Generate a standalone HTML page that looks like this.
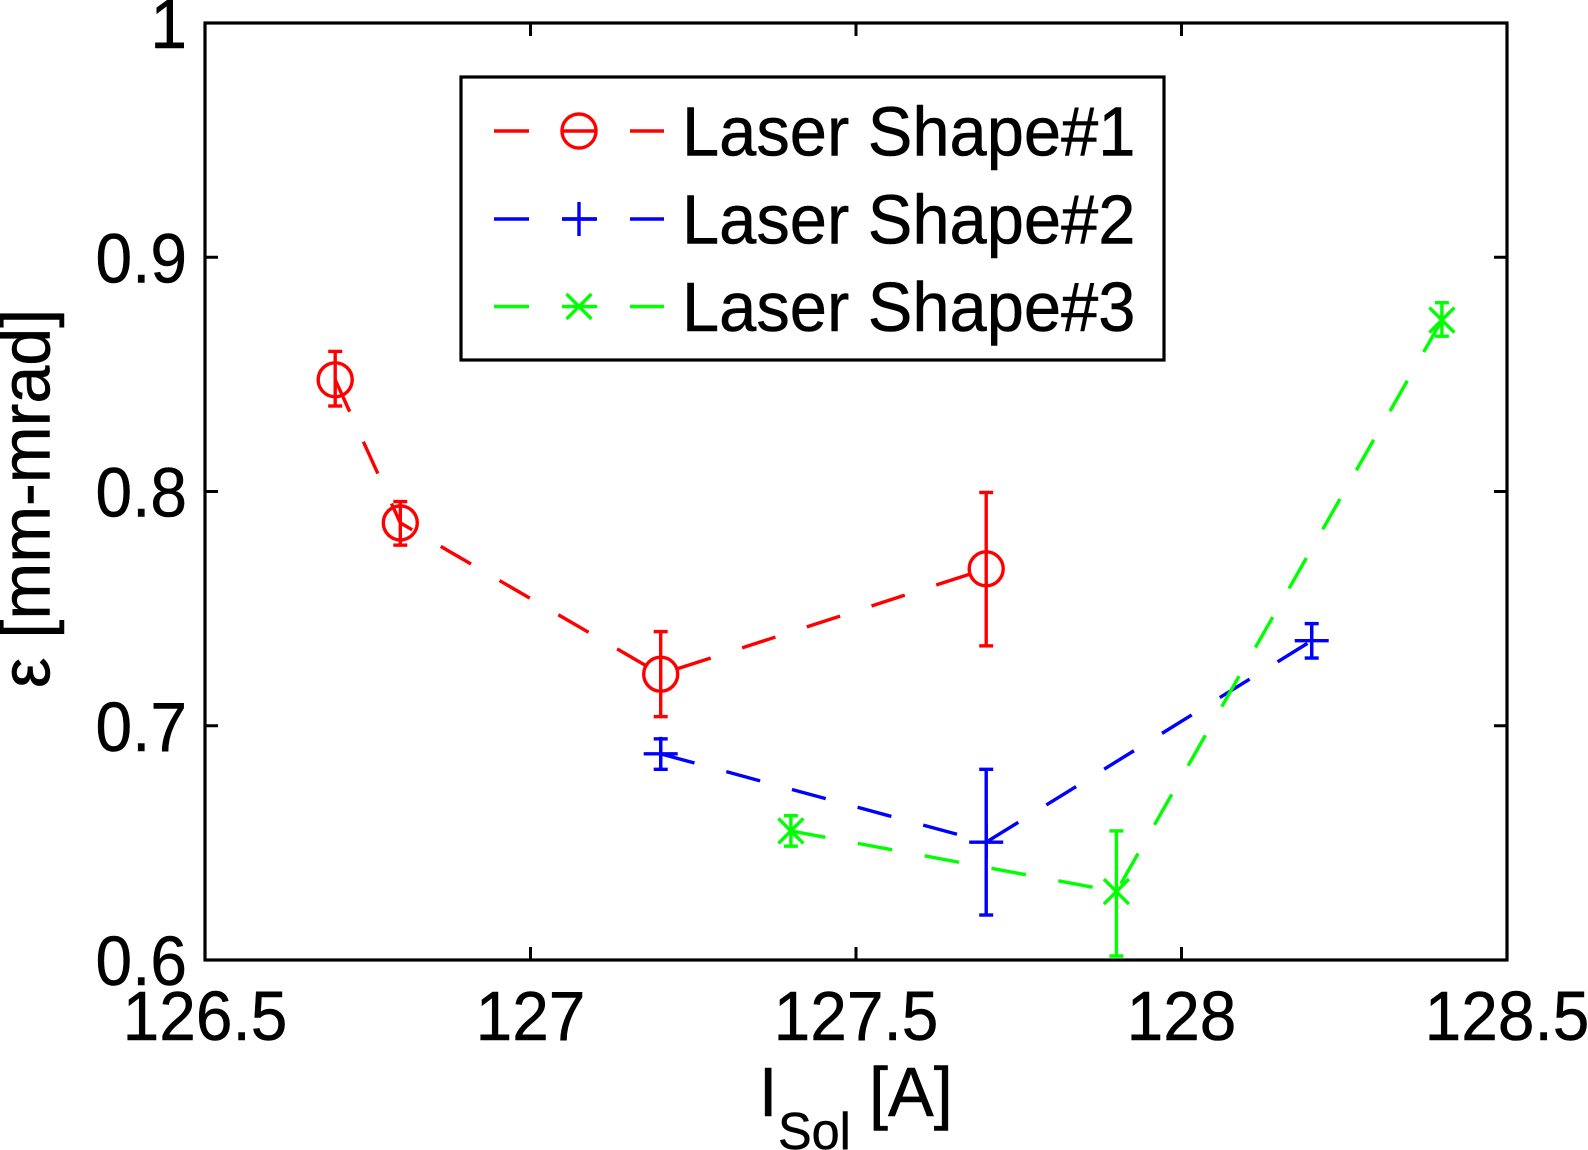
<!DOCTYPE html>
<html>
<head>
<meta charset="utf-8">
<title>Emittance vs solenoid current</title>
<style>
html,body{margin:0;padding:0;background:#fff;width:1588px;height:1150px;overflow:hidden}
svg{display:block}
text{font-family:"Liberation Sans",sans-serif;fill:#000;stroke:#000;stroke-width:.5px}
</style>
</head>
<body>
<svg id="chart" xmlns="http://www.w3.org/2000/svg" width="1588" height="1150" viewBox="0 0 1588 1150"></svg>
<script>
const xTicks = [126.5, 127, 127.5, 128, 128.5];
const xTickLabels = ["126.5", "127", "127.5", "128", "128.5"];
const yTicks = [0.6, 0.7, 0.8, 0.9, 1];
const yTickLabels = ["0.6", "0.7", "0.8", "0.9", "1"];

const shape1Current = [126.7, 126.8, 127.2, 127.7];
const shape1Emittance = [0.8477, 0.7866, 0.722, 0.767];
const shape1Upper = [0.8598, 0.7957, 0.7402, 0.7996];
const shape1Lower = [0.8365, 0.7771, 0.7039, 0.7341];

const shape2Current = [127.2, 127.7, 128.2];
const shape2Emittance = [0.688, 0.6503, 0.7363];
const shape2Upper = [0.6944, 0.6814, 0.7436];
const shape2Lower = [0.6814, 0.6192, 0.7289];

const shape3Current = [127.4, 127.9, 128.4];
const shape3Emittance = [0.6551, 0.6292, 0.8732];
const shape3Upper = [0.6616, 0.6551, 0.8806];
const shape3Lower = [0.6486, 0.6017, 0.8663];

const legendLabels = ["Laser Shape#1", "Laser Shape#2", "Laser Shape#3"];

const NS = "http://www.w3.org/2000/svg";
const svg = document.getElementById("chart");
const L = 205, R = 1507, T = 23, B = 960;
const sx = v => L + (v - 126.5) / 2 * (R - L);
const sy = v => B - (v - 0.6) / 0.4 * (B - T);

function mk(tag, attrs, parent) {
  const el = document.createElementNS(NS, tag);
  for (const k in attrs) el.setAttribute(k, attrs[k]);
  (parent || svg).appendChild(el);
  return el;
}
function txt(str, x, y, fs, anchor, rot, parent, squeeze) {
  const el = mk("text", {
    transform: "translate(" + x + "," + y + ")" + (rot ? " rotate(-90)" : "") + " scale(" + (squeeze || 0.94) + ",1)",
    "font-size": fs,
    "text-anchor": anchor
  }, parent);
  el.textContent = str;
  return el;
}
function seg(x1, y1, x2, y2, color, w, parent) {
  return mk("line", {x1: x1, y1: y1, x2: x2, y2: y2, stroke: color, "stroke-width": w}, parent);
}
function marker(kind, cx, cy, color, parent) {
  if (kind === "circle") {
    mk("circle", {cx: cx, cy: cy, r: 17, fill: "none", stroke: color, "stroke-width": 3.4}, parent);
  } else if (kind === "plus") {
    seg(cx - 17, cy, cx + 17, cy, color, 3.4, parent);
    seg(cx, cy - 17, cx, cy + 17, color, 3.4, parent);
  } else {
    seg(cx - 12.5, cy - 12.5, cx + 12.5, cy + 12.5, color, 3.4, parent);
    seg(cx - 12.5, cy + 12.5, cx + 12.5, cy - 12.5, color, 3.4, parent);
  }
}

/* Axes frame */
const frame = mk("rect", {x: L, y: T, width: R - L, height: B - T, fill: "#fff", stroke: "#000", "stroke-width": 3.2});



/* X ticks */
xTicks.forEach((v, i) => {
  const g = mk("g", {});
  
  
  if (i > 0 && i < xTicks.length - 1) {
    seg(sx(v), B, sx(v), B - 13, "#000", 3, g);
    seg(sx(v), T, sx(v), T + 13, "#000", 3, g);
  }
  txt(xTickLabels[i], sx(v), 1040, 70, "middle", false, g);
});

/* Y ticks */
yTicks.forEach((v, i) => {
  const g = mk("g", {});
  
  
  if (i > 0 && i < yTicks.length - 1) {
    seg(L, sy(v), L + 13, sy(v), "#000", 3, g);
    seg(R, sy(v), R - 13, sy(v), "#000", 3, g);
  }
  txt(yTickLabels[i], 187, sy(v) + 25, 70, "end", false, g);
});

/* Series */
function drawSeries(name, color, kind, xs, ys, up, lo) {
  const g = mk("g", {});
  
  
  const pts = xs.map((x, i) => sx(x) + "," + sy(ys[i])).join(" ");
  const line = mk("polyline", {points: pts, fill: "none", stroke: color, "stroke-width": 3.4, "stroke-dasharray": "35 33"}, g);
  
  
  xs.forEach((x, i) => {
    const p = mk("g", {}, g);
    
    
    const cx = sx(x), top = sy(up[i]), bot = sy(lo[i]);
    seg(cx, top, cx, bot, color, 3.4, p);
    seg(cx - 7, top, cx + 7, top, color, 3.4, p);
    seg(cx - 7, bot, cx + 7, bot, color, 3.4, p);
    marker(kind, cx, sy(ys[i]), color, p);
  });
}
drawSeries("laser-shape-1-series", "#ff0000", "circle", shape1Current, shape1Emittance, shape1Upper, shape1Lower);
drawSeries("laser-shape-2-series", "#0000ff", "plus", shape2Current, shape2Emittance, shape2Upper, shape2Lower);
drawSeries("laser-shape-3-series", "#00ff00", "x", shape3Current, shape3Emittance, shape3Upper, shape3Lower);

/* Legend */
const legend = mk("g", {});


mk("rect", {x: 461, y: 77, width: 703, height: 283, fill: "#fff", stroke: "#000", "stroke-width": 3.2}, legend);
const legendColors = ["#ff0000", "#0000ff", "#00ff00"];
const legendKinds = ["circle", "plus", "x"];
const legendRows = [131, 219, 306.5];
legendLabels.forEach((label, i) => {
  const y = legendRows[i];
  const row = mk("g", {}, legend);
  
  
  seg(494, y, 664, y, legendColors[i], 3.4, row).setAttribute("stroke-dasharray", "35 33");
  marker(legendKinds[i], 579, y, legendColors[i], row);
  txt(label, 682, y + 24.5, 70, "start", false, row, 0.955);
});

/* Axis titles */
const xTitle = mk("g", {});


txt("I", 759, 1116, 70, "start", false, xTitle);
txt("Sol", 778, 1149, 52, "start", false, xTitle, 0.97);
txt("[A]", 869, 1116, 70, "start", false, xTitle, 0.98);

const yTitle = txt("ε [mm-mrad]", 49.5, 688, 70, "start", true, svg, 0.975);


</script>
</body>
</html>
